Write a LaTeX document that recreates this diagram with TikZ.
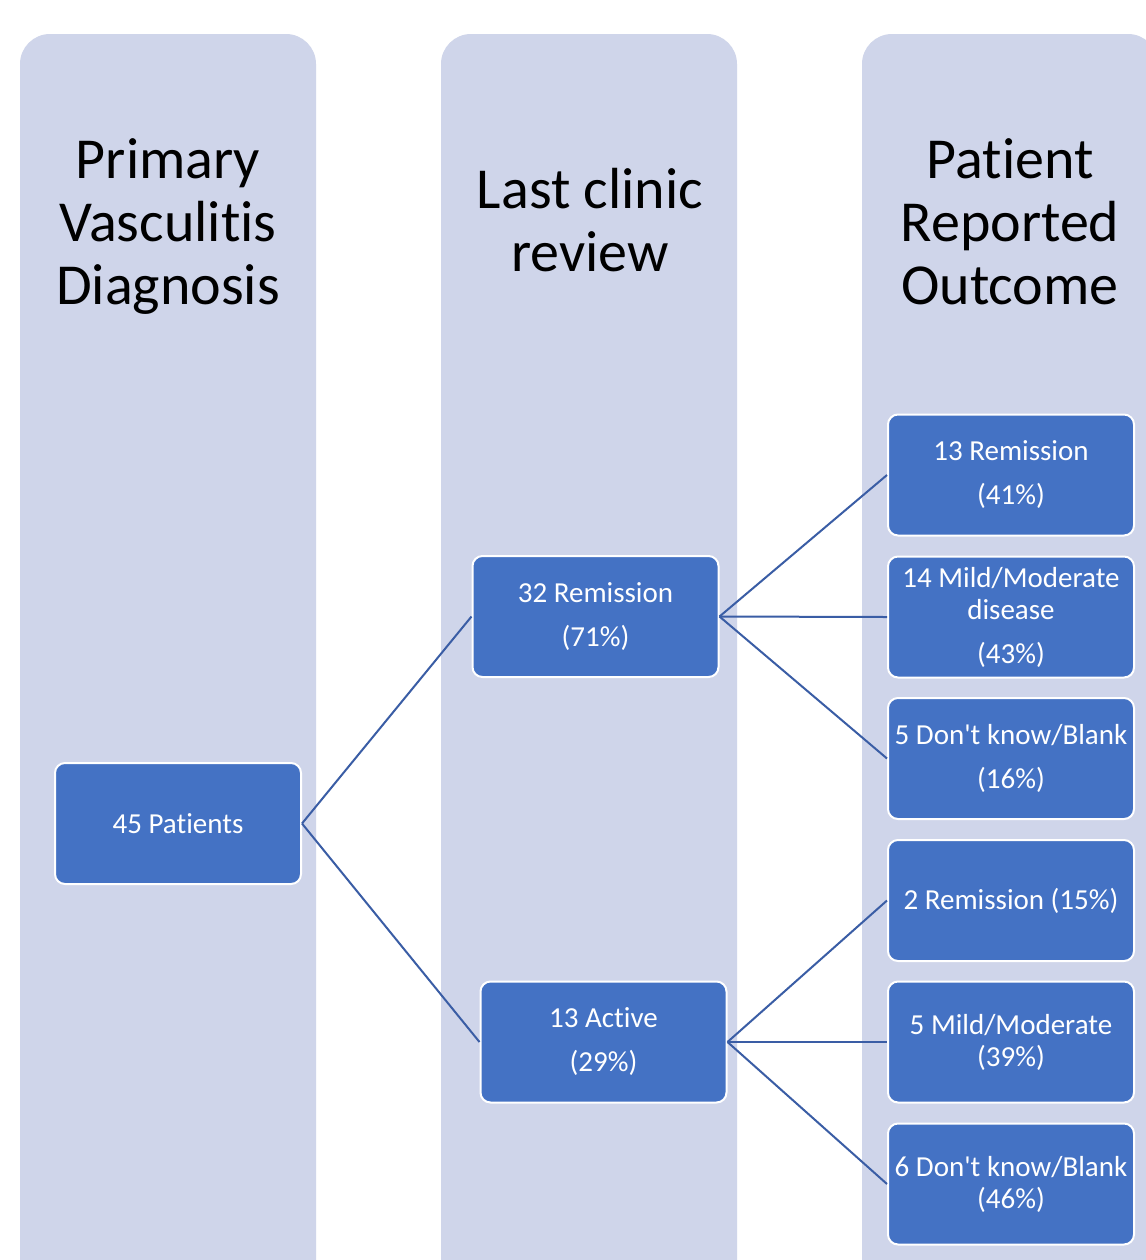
\documentclass[tikz,border=0pt]{standalone}
\usepackage{fontspec}
\setmainfont{Carlito}[Ligatures={TeXOff,NoCommon}]
\definecolor{lane}{HTML}{CFD5EA}
\definecolor{boxblue}{HTML}{4472C4}
\definecolor{linkblue}{HTML}{3A5DA5}
\begin{document}
\begin{tikzpicture}[x=0.5pt,y=-0.5pt,
  lanebg/.style={fill=lane, rounded corners=15pt},
  head/.style={inner sep=0pt, anchor=base, font=\fontsize{29}{31.5}\selectfont},
  item/.style={draw=white, line width=1pt, fill=boxblue, rounded corners=5pt, text=white, align=center,
    minimum width=123pt, minimum height=60.5pt, inner sep=0pt, font=\fontsize{14.5}{16}\selectfont},
  link/.style={draw=linkblue, line width=1pt}]
\clip (0,0) rectangle (1146,1260);
\fill[white] (0,0) rectangle (1146,1260);
\fill[lanebg] (20,1320) -- (20,34) -- (316,34) -- (316,1320) -- cycle;
\fill[lanebg] (441,1320) -- (441,34) -- (737,34) -- (737,1320) -- cycle;
\fill[lanebg] (862,1320) -- (862,34) -- (1158,34) -- (1158,1320) -- cycle;

\node[head] (h1) at (168,178) {\begin{tabular}[t]{@{}c@{}}Primary\\Vasculitis\\Diagnosis\end{tabular}};
\node[head] (h2) at (590,208) {\begin{tabular}[t]{@{}c@{}}Last clinic\\review\end{tabular}};
\node[head] (h3) at (1010,178) {\begin{tabular}[t]{@{}c@{}}Patient\\Reported\\Outcome\end{tabular}};

\node[item] (pat) at (178,823.5) {45 Patients};
\node[item] (rem) at (595.5,616.5) {32 Remission\\[6pt](71\%)};
\node[item] (act) at (603.5,1042) {13 Active\\[6pt](29\%)};
\node[item] (r1) at (1011,475) {13 Remission\\[6pt](41\%)};
\node[item] (r2) at (1011,617) {14 Mild/Moderate\\disease\\[6pt](43\%)};
\node[item] (r3) at (1011,758.5) {5 Don't know/Blank\\[6pt](16\%)};
\node[item] (a1) at (1011,900.5) {2 Remission (15\%)};
\node[item] (a2) at (1011,1042) {5 Mild/Moderate\\(39\%)};
\node[item] (a3) at (1011,1184) {6 Don't know/Blank\\(46\%)};

\draw[link] (pat.east) -- (rem.west);
\draw[link] (pat.east) -- (act.west);
\draw[link] (rem.east) -- (r1.west);
\draw[link] (rem.east) -- (r2.west);
\draw[link] (rem.east) -- (r3.west);
\draw[link] (act.east) -- (a1.west);
\draw[link] (act.east) -- (a2.west);
\draw[link] (act.east) -- (a3.west);
\end{tikzpicture}
\end{document}
